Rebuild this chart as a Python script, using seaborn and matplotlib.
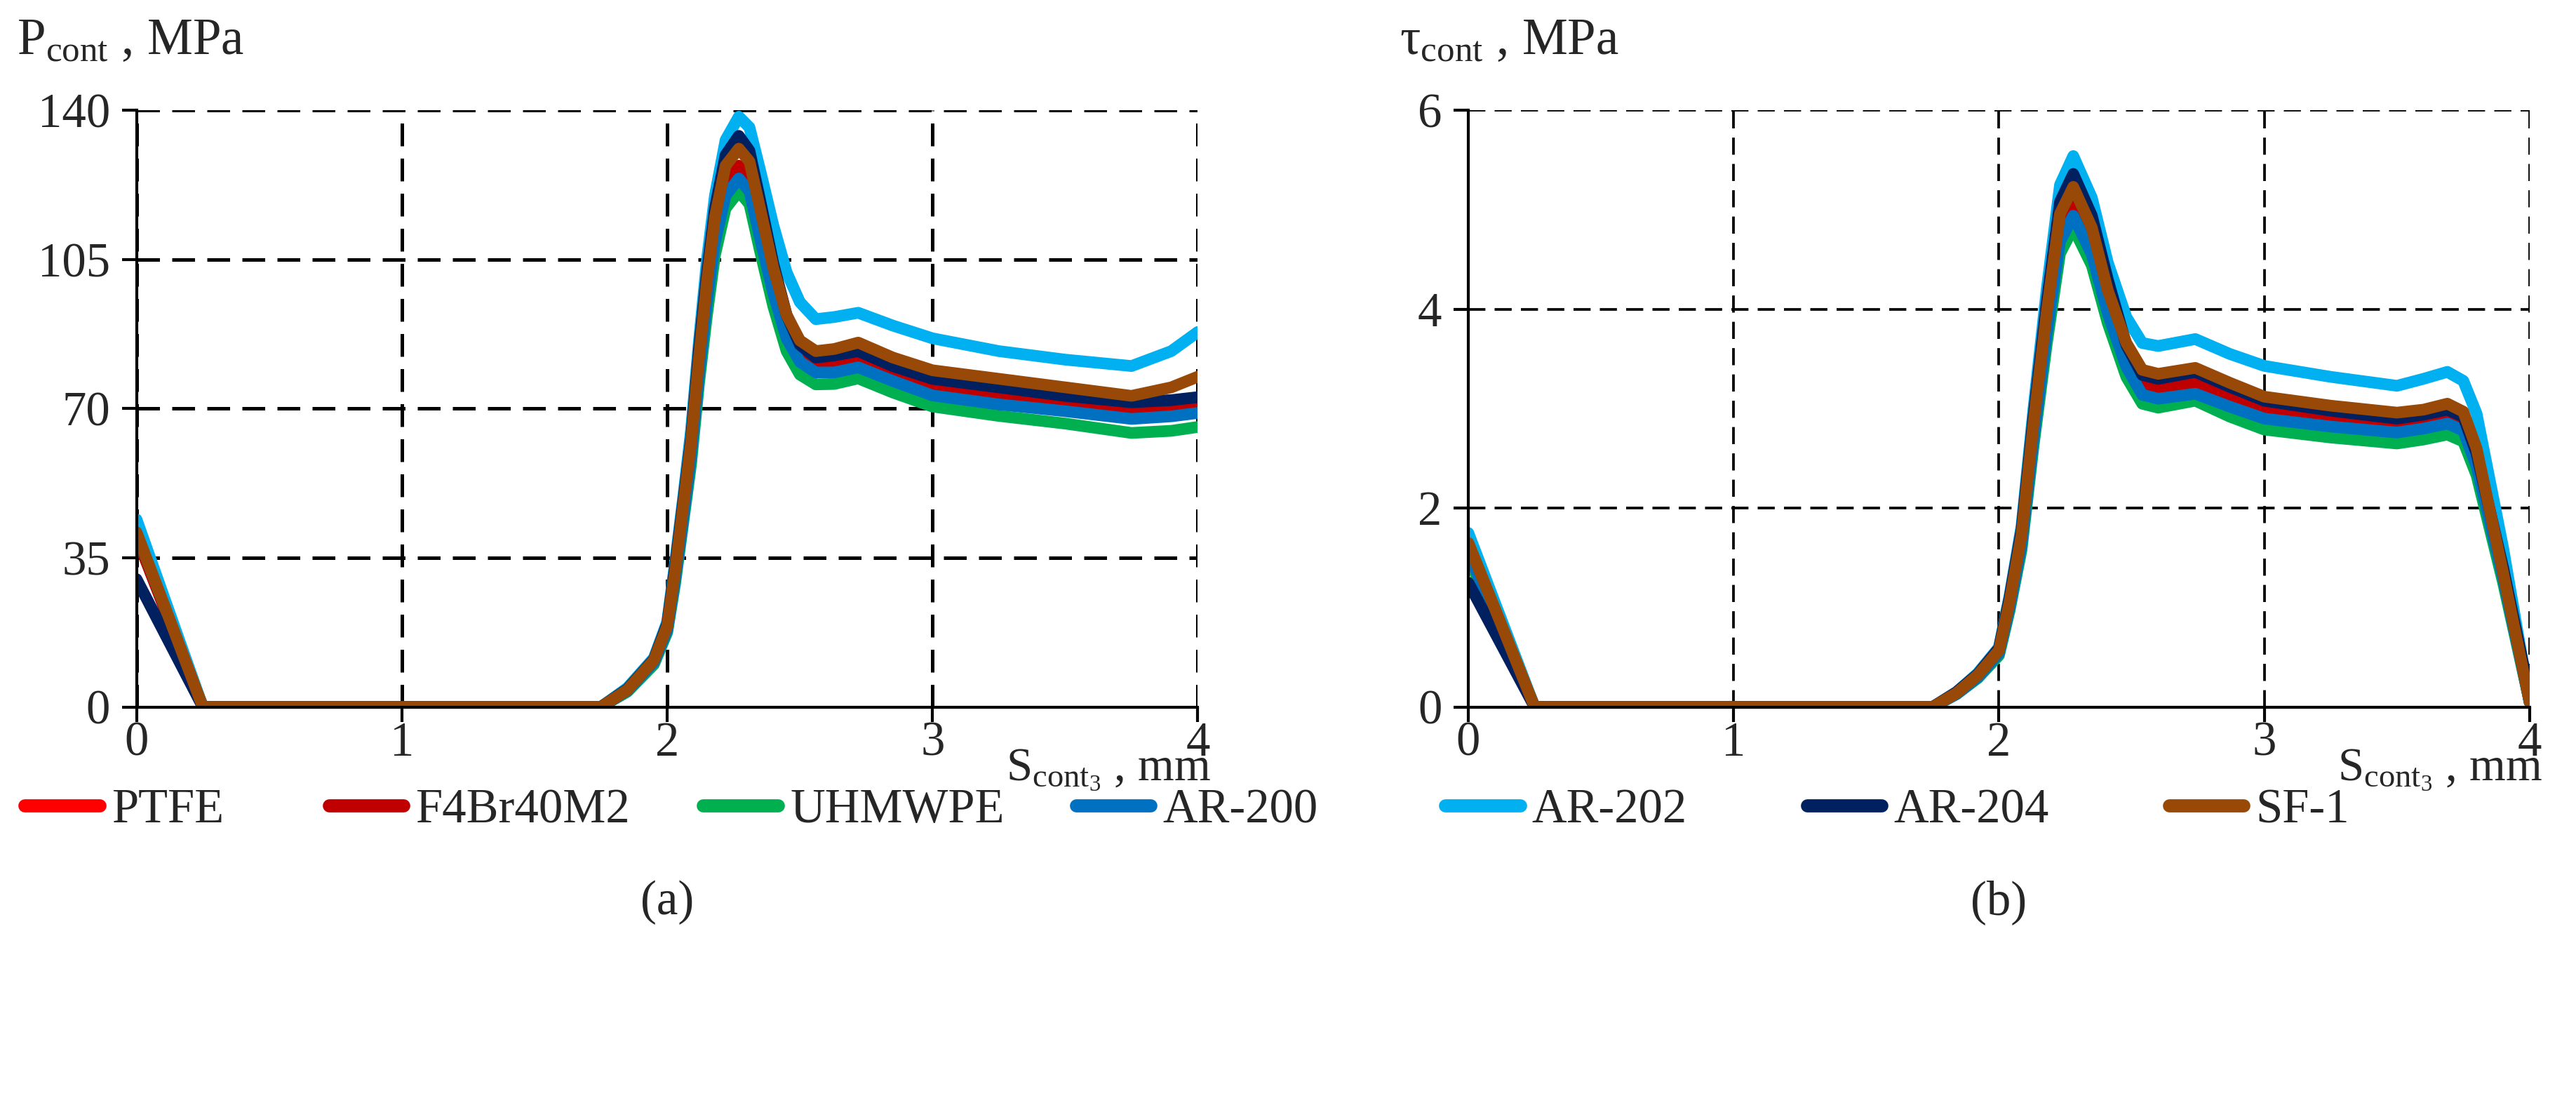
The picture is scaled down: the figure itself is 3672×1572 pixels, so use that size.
import numpy as np
import pandas as pd
import matplotlib
matplotlib.use('agg')
import seaborn as sns
import matplotlib.pyplot as plt

materials = ["PTFE", "F4Br40M2", "UHMWPE", "AR-200", "AR-202", "AR-204", "SF-1"]
colors = ["#FF0000", "#C00000", "#00B050", "#0070C0", "#00B0F0", "#002060", "#984807"]

# (a) contact pressure, MPa
s_p = [0, 0.25, 1.75, 1.85, 1.95, 2.0, 2.03, 2.06, 2.09, 2.12, 2.15, 2.18, 2.22, 2.27,
       2.31, 2.35, 2.40, 2.45, 2.50, 2.56, 2.63, 2.72, 2.85, 3.0, 3.25, 3.5, 3.75, 3.9, 4.0]
p_ptfe = [40, 0, 0, 4, 11, 19, 31.5, 46, 60.5, 80.5, 97.5, 111, 122, 126,
          123, 112, 99, 88.5, 82.5, 80, 80, 81, 78, 74.8, 72.8, 71, 69.5, 70, 70.6]
p_f4 = [40, 0, 0, 4, 11, 19, 31.5, 46, 61, 81, 98, 112, 123, 127,
        124, 113, 100, 89, 83, 80.5, 80.5, 81.5, 78.5, 75.3, 73.3, 71.6, 70, 70.5, 71.2]
p_uhmwpe = [41, 0, 0, 3.6, 10, 17.5, 29, 43, 57, 76, 92, 106, 117, 121,
            118, 107, 94, 83.5, 78, 75.7, 75.8, 77.1, 73.8, 70.5, 68.3, 66.5, 64.3, 64.8, 65.7]
p_ar200 = [41, 0, 0, 3.8, 10.5, 18, 30, 44, 59, 78, 95, 109, 120, 124,
           121, 110, 97, 86.5, 81, 78.5, 78.5, 79.7, 76.5, 73.1, 71, 69.4, 67.6, 68.2, 69]
p_ar202 = [44, 0, 0, 4.5, 11.5, 20, 34, 49, 65, 86, 105, 120, 133, 138.5,
           136, 126, 113, 102, 95, 91, 91.5, 92.5, 89.5, 86.5, 83.5, 81.5, 80, 83.5, 88]
p_ar204 = [30, 0, 0, 4.2, 11.2, 19.5, 33, 48, 63, 84, 102, 117, 129.5, 134,
           130.5, 119, 104, 92, 85, 82, 82.5, 83.5, 80, 77, 75, 73, 71.5, 72, 72.7]
p_sf1 = [41, 0, 0, 4, 11, 19, 32, 47, 62, 82, 100, 115, 127, 131,
         128, 117, 103, 92, 86, 83.5, 84, 85.5, 82, 79, 77, 75, 73, 75, 77.5]

# (b) contact shear stress, MPa
s_t = [0, 0.25, 1.75, 1.84, 1.92, 2.0, 2.04, 2.085, 2.13, 2.18, 2.23, 2.28, 2.35, 2.41,
       2.48, 2.54, 2.6, 2.74, 2.87, 3.0, 3.25, 3.5, 3.6, 3.69, 3.75, 3.8, 3.9, 4.0]
t_ptfe = [1.6, 0, 0, 0.14, 0.31, 0.55, 1.02, 1.66, 2.73, 3.8, 4.74, 5.0, 4.61, 4.01,
          3.48, 3.22, 3.18, 3.23, 3.1, 2.98, 2.89, 2.82, 2.87, 2.93, 2.85, 2.48, 1.33, 0.05]
t_f4 = [1.6, 0, 0, 0.14, 0.31, 0.56, 1.03, 1.68, 2.76, 3.85, 4.8, 5.07, 4.67, 4.06,
        3.52, 3.25, 3.21, 3.26, 3.13, 3.01, 2.92, 2.85, 2.9, 2.96, 2.88, 2.5, 1.35, 0.05]
t_uhmwpe = [1.5, 0, 0, 0.13, 0.29, 0.52, 0.97, 1.58, 2.62, 3.65, 4.56, 4.82, 4.44, 3.86,
            3.32, 3.05, 3.01, 3.08, 2.92, 2.79, 2.71, 2.65, 2.69, 2.74, 2.67, 2.33, 1.25, 0.05]
t_ar200 = [1.55, 0, 0, 0.13, 0.3, 0.54, 1.0, 1.63, 2.69, 3.75, 4.68, 4.94, 4.55, 3.96,
           3.42, 3.14, 3.1, 3.15, 3.02, 2.9, 2.82, 2.76, 2.8, 2.85, 2.78, 2.42, 1.3, 0.05]
t_ar202 = [1.75, 0, 0, 0.15, 0.34, 0.6, 1.12, 1.82, 3.0, 4.2, 5.25, 5.54, 5.12, 4.47,
           3.92, 3.66, 3.63, 3.70, 3.55, 3.43, 3.32, 3.23, 3.3, 3.37, 3.28, 2.95, 1.6, 0.05]
t_ar204 = [1.25, 0, 0, 0.15, 0.33, 0.59, 1.1, 1.78, 2.92, 4.07, 5.08, 5.36, 4.94, 4.3,
           3.64, 3.34, 3.3, 3.37, 3.22, 3.08, 2.98, 2.9, 2.94, 2.99, 2.92, 2.55, 1.4, 0.12]
t_sf1 = [1.65, 0, 0, 0.14, 0.32, 0.57, 1.06, 1.73, 2.85, 3.97, 4.96, 5.23, 4.82, 4.19,
         3.66, 3.39, 3.35, 3.41, 3.26, 3.12, 3.03, 2.96, 2.99, 3.05, 2.97, 2.6, 1.35, 0.05]


def to_long(s, series):
	frames = []
	for name, vals in zip(materials, series):
		frames.append(pd.DataFrame({"s": s, "v": vals, "material": name}))
	return pd.concat(frames, ignore_index=True)


df_p = to_long(s_p, [p_ptfe, p_f4, p_uhmwpe, p_ar200, p_ar202, p_ar204, p_sf1])
df_t = to_long(s_t, [t_ptfe, t_f4, t_uhmwpe, t_ar200, t_ar202, t_ar204, t_sf1])

sns.set_style("white")
plt.rcParams['font.family'] = ['Liberation Serif', 'DejaVu Serif']
plt.rcParams['mathtext.fontset'] = 'custom'
plt.rcParams['mathtext.rm'] = 'Liberation Serif'
plt.rcParams['mathtext.it'] = 'Liberation Serif:italic'

FS = 16.5
palette = dict(zip(materials, colors))

fig = plt.figure(figsize=(12.24, 5.24), dpi=300)
ax1 = fig.add_axes([0.053, 0.359, 0.412, 0.541])
ax2 = fig.add_axes([0.570, 0.359, 0.412, 0.541])


def panel(ax, data, ymax, yticks, ylabel, ylab_x, grid_lw):
	sns.lineplot(data=data, x="s", y="v", hue="material", hue_order=materials,
				 palette=palette, linewidth=4, estimator=None, sort=False,
				 ax=ax, legend=True)
	ax.set_xlim(0, 4)
	ax.set_ylim(0, ymax)
	ax.set_xticks([0, 1, 2, 3, 4])
	ax.set_yticks(yticks)
	ax.set(xlabel='', ylabel='')
	ax.grid(True, color='black', linestyle=(0, (6.5, 3.5)), linewidth=grid_lw)
	ax.set_axisbelow(True)
	for side in ["top", "right"]:
		ax.spines[side].set_visible(False)
	for side in ["left", "bottom"]:
		ax.spines[side].set_color('black')
		ax.spines[side].set_linewidth(1.0)
	ax.tick_params(axis='both', direction='out', length=5, width=1.0,
				   color='black', labelsize=FS, left=True, bottom=True)
	ax.tick_params(axis='x', pad=0)
	ax.tick_params(axis='y', pad=4)
	ax.text(ylab_x, 1.115, ylabel, transform=ax.transAxes, fontsize=FS + 1,
			ha='left', va='center')
	ax.text(1.012, -0.106, r"S$_{\mathrm{cont}_3}$ , mm", transform=ax.transAxes,
			fontsize=FS - 0.5, ha='right', va='center')


panel(ax1, df_p, 140, [0, 35, 70, 105, 140], r"P$_{\mathrm{cont}}$ , MPa", -0.113, 1.2)
panel(ax2, df_t, 6, [0, 2, 4, 6], r"τ$_{\mathrm{cont}}$ , MPa", -0.065, 0.9)

handles, labels = ax1.get_legend_handles_labels()
ax1.legend_.remove()
ax2.legend_.remove()

# one legend entry per slot, evenly spaced like the original
slots = [0.0096, 0.1276, 0.273, 0.4177, 0.561, 0.7015, 0.842]
for h, lab, x0 in zip(handles, labels, slots):
	h.set_linewidth(4.5)
	fig.legend([h], [lab], loc='center left', bbox_to_anchor=(x0, 0.265),
			   frameon=False, fontsize=FS, handlelength=1.55, handletextpad=0.25,
			   borderpad=0, borderaxespad=0)

fig.text(0.259, 0.182, "(a)", fontsize=FS, ha='center', va='center')
fig.text(0.776, 0.182, "(b)", fontsize=FS, ha='center', va='center')

fig.savefig("out.png", dpi=300)
